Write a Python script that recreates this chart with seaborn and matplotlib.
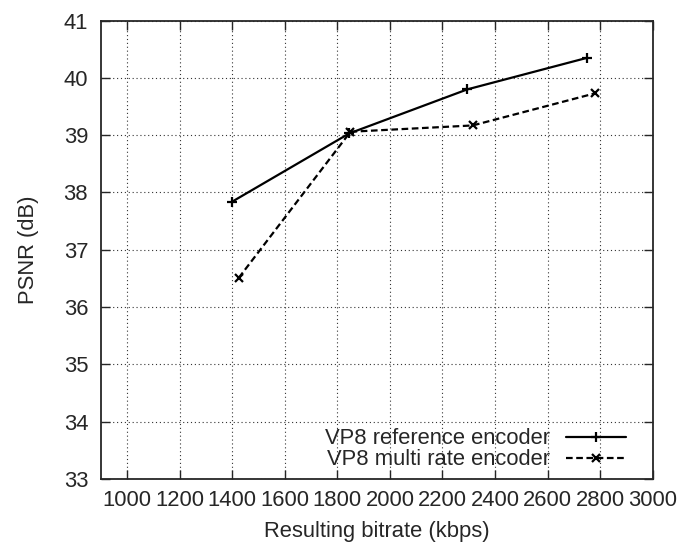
import seaborn as sns
import matplotlib.pyplot as plt
import pandas

# Values
ref_bitrate = [1400, 1845, 2295, 2750]
ref_psnr = [37.84, 39.03, 39.80, 40.35]
multi_bitrate = [1425, 1850, 2315, 2780]
multi_psnr = [36.51, 39.06, 39.17, 39.73]
series_names = ['VP8 reference encoder', 'VP8 multi rate encoder']

sns.set_style('ticks')
plt.rcParams['font.family'] = ['Liberation Sans', 'DejaVu Sans']
fs = 15.8

ref = pandas.DataFrame({'bitrate': ref_bitrate, 'psnr': ref_psnr})
multi = pandas.DataFrame({'bitrate': multi_bitrate, 'psnr': multi_psnr})

fig = plt.figure(figsize=(6.82, 5.46), dpi=100)
ax = fig.add_axes([0.1477, 0.1227, 0.8094, 0.8396])

sns.lineplot(data=ref, x='bitrate', y='psnr', ax=ax, color='black', linewidth=1.6,
             marker='+', markersize=6.5, markeredgewidth=1.6, markeredgecolor='black',
             label=series_names[0])
sns.lineplot(data=multi, x='bitrate', y='psnr', ax=ax, color='black', linewidth=1.6,
             linestyle=(0, (3, 1.6)), marker='x', markersize=6, markeredgewidth=1.6,
             markeredgecolor='black', label=series_names[1])

ax.set_xlim(900, 3000)
ax.set_ylim(33, 41)
ax.set_xticks(range(1000, 3001, 200))
ax.set_yticks(range(33, 42))
ax.grid(True, ls=(0, (1, 2.5)), color='#333333', lw=0.8)
ax.tick_params(direction='in', length=6.5, width=1.0, top=True, right=True, labelsize=fs)
ax.tick_params(axis='y', pad=9)
ax.tick_params(axis='x', pad=8)
for s in ax.spines.values():
    s.set_linewidth(1.3)

ax.set_xlabel('Resulting bitrate (kbps)', fontsize=fs, labelpad=7)
ax.set_ylabel('PSNR (dB)', fontsize=fs, labelpad=18)

ax.legend(loc='lower right', bbox_to_anchor=(0.967, 0.0), frameon=False, markerfirst=False,
          handlelength=2.7, fontsize=15.8, labelspacing=0.0, borderaxespad=0,
          handletextpad=0.75)

plt.savefig('out.png', dpi=100)
